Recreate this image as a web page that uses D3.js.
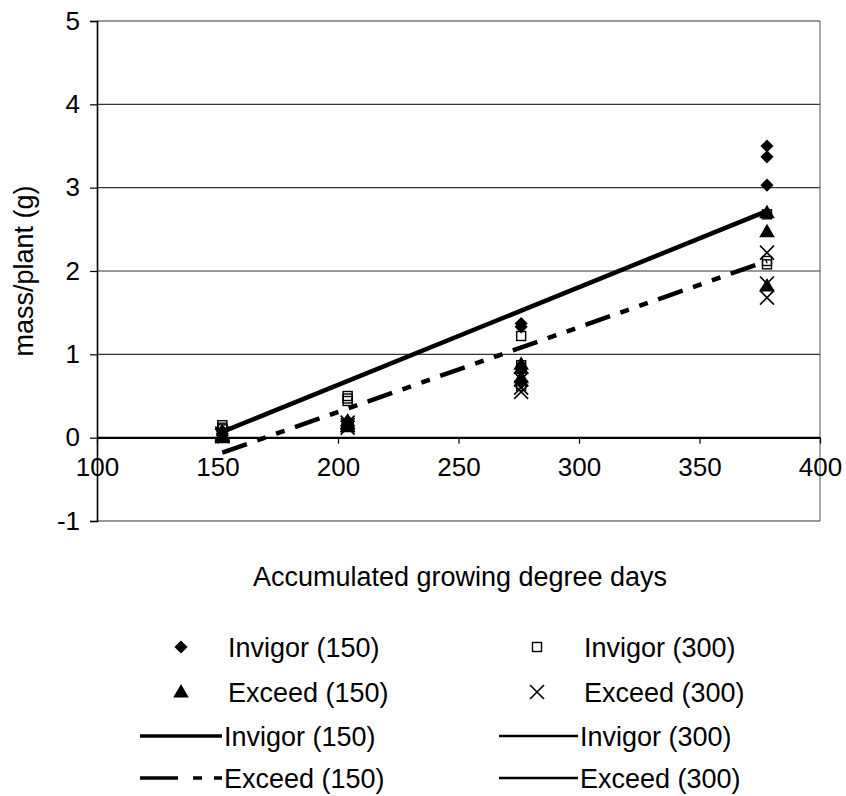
<!DOCTYPE html>
<html>
<head>
<meta charset="utf-8">
<script src="https://cdn.jsdelivr.net/npm/d3@7/dist/d3.min.js"></script>
<style>
  html, body { margin: 0; padding: 0; background: #fff; }
  svg { display: block; font-family: "Liberation Sans", Arial, sans-serif; }
</style>
</head>
<body>
<svg id="chart" width="846" height="796"></svg>
<script>
// Sampling dates (accumulated growing degree days)
const gdd = [152, 204, 276, 378];

// Shoot mass per plant (g), three plants per sampling date
const invigor150 = [[0.08, 0.05, 0.03], [0.20, 0.17, 0.15], [1.37, 1.33, 0.66], [3.50, 3.37, 3.03]];
const invigor300 = [[0.15, 0.12, 0.10], [0.50, 0.47, 0.44], [1.22, 0.87, 0.62], [2.68, 2.12, 2.08]];
const exceed150  = [[0.03, 0.01, 0.00], [0.20, 0.17, 0.13], [0.88, 0.83, 0.72], [2.70, 2.47, 1.82]];
const exceed300  = [[0.05, 0.03, 0.02], [0.18, 0.15, 0.12], [0.70, 0.60, 0.55], [2.22, 1.85, 1.68]];

// Linear trend lines (end points)
const invigor150Fit = [[152, 0.07], [378, 2.72]];
const exceed150Fit  = [[152, -0.18], [378, 2.12]];

// Axis ticks
const xTicks = [100, 150, 200, 250, 300, 350, 400];
const yTicks = [-1, 0, 1, 2, 3, 4, 5];

const svg = d3.select("#chart");
const x = d3.scaleLinear().domain([100, 400]).range([97, 820]);
const y = d3.scaleLinear().domain([-1, 5]).range([521, 21]);

// Horizontal gridlines
svg.append("g").selectAll("line").data(yTicks).join("line")
  .attr("x1", x(100)).attr("x2", x(400))
  .attr("y1", d => y(d)).attr("y2", d => y(d))
  .attr("stroke", d => d === 0 ? "#000" : "#333")
  .attr("stroke-width", d => d === 0 ? 1.6 : 1.1);

// Right border of plot area
svg.append("line")
  .attr("x1", x(400)).attr("x2", x(400)).attr("y1", y(5)).attr("y2", y(-1))
  .attr("stroke", "#555").attr("stroke-width", 1);

// Y axis
const yAxis = d3.axisLeft(y).tickValues(yTicks).tickSize(7).tickPadding(10).tickFormat(d => String(d));
const gy = svg.append("g").attr("transform", `translate(${x(100)},0)`).call(yAxis);
gy.select(".domain").attr("stroke", "#000").attr("stroke-width", 1.6);
gy.selectAll(".tick line").attr("stroke", "#000").attr("stroke-width", 1.2);
gy.selectAll(".tick text").attr("font-size", 26).attr("fill", "#000")
  .attr("font-family", "Liberation Sans, Arial, sans-serif");

// X axis sitting on y = 0
const xAxis = d3.axisBottom(x).tickValues(xTicks).tickSize(6).tickPadding(14).tickSizeOuter(0).tickFormat(d => String(d));
const gx = svg.append("g").attr("transform", `translate(0,${y(0)})`).call(xAxis);
gx.select(".domain").attr("stroke", "#000").attr("stroke-width", 1.6);
gx.selectAll(".tick line").attr("stroke", "#000").attr("stroke-width", 1.2);
gx.selectAll(".tick text").attr("font-size", 26).attr("fill", "#000")
  .attr("font-family", "Liberation Sans, Arial, sans-serif");

// Axis titles
svg.append("text")
  .attr("x", 460).attr("y", 586)
  .attr("text-anchor", "middle").attr("font-size", 27)
  .text("Accumulated growing degree days");
svg.append("text")
  .attr("transform", `translate(33,${y(2)}) rotate(-90)`)
  .attr("text-anchor", "middle").attr("font-size", 27)
  .text("mass/plant (g)");

// Marker drawing helpers
const diamond = d3.symbol().type(d3.symbolDiamond2).size(110);
const triangle = d3.symbol().type(d3.symbolTriangle).size(105);

function flatten(values) {
  const pts = [];
  values.forEach((reps, i) => reps.forEach(v => pts.push([gdd[i], v])));
  return pts;
}

function drawMarker(g, kind, cx, cy) {
  if (kind === "diamond") {
    g.append("path").attr("d", diamond()).attr("transform", `translate(${cx},${cy})`).attr("fill", "#000");
  } else if (kind === "triangle") {
    g.append("path").attr("d", triangle()).attr("transform", `translate(${cx},${cy + 1})`).attr("fill", "#000");
  } else if (kind === "square") {
    g.append("rect").attr("x", cx - 4.5).attr("y", cy - 4.5).attr("width", 9).attr("height", 9)
      .attr("fill", "none").attr("stroke", "#000").attr("stroke-width", 1.4);
  } else if (kind === "cross") {
    const s = 7;
    g.append("path").attr("d", `M${cx - s},${cy - s}L${cx + s},${cy + s}M${cx - s},${cy + s}L${cx + s},${cy - s}`)
      .attr("stroke", "#000").attr("stroke-width", 1.6).attr("fill", "none");
  }
}

const series = [
  { name: "Invigor (150)", values: invigor150, kind: "diamond" },
  { name: "Invigor (300)", values: invigor300, kind: "square" },
  { name: "Exceed (150)", values: exceed150, kind: "triangle" },
  { name: "Exceed (300)", values: exceed300, kind: "cross" }
];

// Trend lines
const line = d3.line().x(d => x(d[0])).y(d => y(d[1]));
svg.append("path").datum(invigor150Fit).attr("d", line)
  .attr("stroke", "#000").attr("stroke-width", 4.5).attr("fill", "none");
svg.append("path").datum(exceed150Fit).attr("d", line)
  .attr("stroke", "#000").attr("stroke-width", 4.5).attr("fill", "none")
  .attr("stroke-dasharray", "26,11,9,11,9,11");

// Data points
const gp = svg.append("g");
series.forEach(s => {
  flatten(s.values).forEach(p => drawMarker(gp, s.kind, x(p[0]), y(p[1])));
});

// Legend
const lg = svg.append("g").attr("font-size", 27);
const rows = [647, 692, 736, 778];
const col1 = { mark: 181, text: 228, lx1: 140, lx2: 222 };
const col2 = { mark: 537, text: 584, lx1: 499, lx2: 578 };

function legendText(col, row, label) {
  lg.append("text").attr("x", col.text).attr("y", row).attr("dy", "0.36em").text(label);
}
drawMarker(lg, "diamond", col1.mark, rows[0]);
legendText(col1, rows[0], "Invigor (150)");
drawMarker(lg, "square", col2.mark, rows[0]);
legendText(col2, rows[0], "Invigor (300)");
drawMarker(lg, "triangle", col1.mark, rows[1]);
legendText(col1, rows[1], "Exceed (150)");
drawMarker(lg, "cross", col2.mark, rows[1]);
legendText(col2, rows[1], "Exceed (300)");

lg.append("line").attr("x1", col1.lx1).attr("x2", col1.lx2).attr("y1", rows[2]).attr("y2", rows[2])
  .attr("stroke", "#000").attr("stroke-width", 3.5);
legendText({ text: col1.lx2 + 2 }, rows[2], "Invigor (150)");
lg.append("line").attr("x1", col2.lx1).attr("x2", col2.lx2).attr("y1", rows[2]).attr("y2", rows[2])
  .attr("stroke", "#000").attr("stroke-width", 2.5);
legendText({ text: col2.lx2 + 2 }, rows[2], "Invigor (300)");

lg.append("line").attr("x1", col1.lx1).attr("x2", col1.lx2).attr("y1", rows[3]).attr("y2", rows[3])
  .attr("stroke", "#000").attr("stroke-width", 3.5).attr("stroke-dasharray", "38,15,9,12,9");
legendText({ text: col1.lx2 + 2 }, rows[3], "Exceed (150)");
lg.append("line").attr("x1", col2.lx1).attr("x2", col2.lx2).attr("y1", rows[3]).attr("y2", rows[3])
  .attr("stroke", "#000").attr("stroke-width", 2.5);
legendText({ text: col2.lx2 + 2 }, rows[3], "Exceed (300)");
</script>
</body>
</html>
